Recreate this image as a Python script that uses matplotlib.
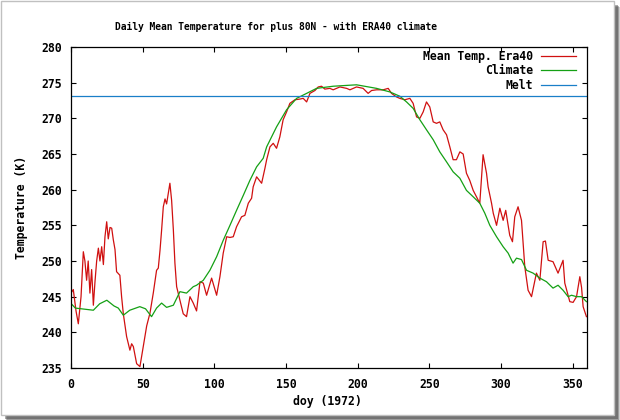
import matplotlib
matplotlib.use("Agg")
import matplotlib.pyplot as plt
from matplotlib.patches import Rectangle

# ---------------- DATA ----------------
era40_day = [0, 1.6, 3.5, 5.1, 7, 8.6, 9.7, 10.9, 12, 13.2, 14.4, 15.6, 16.7, 17.9,
             19.1, 20.2, 21.4, 22.6, 23.7, 24.9, 26, 27.2, 28.4, 29.5, 30.7, 31.8,
             34.1, 35.3, 36.5, 38.8, 41.1, 42.3, 43.5, 45.8, 48.1, 50.4, 52.8, 55.1,
             57.4, 59.7, 60.9, 62.1, 63.2, 64.4, 65.6, 66.7, 67.9, 69, 70.2, 71.4,
             72.5, 73.7, 76, 78.3, 80.6, 83, 85.3, 87.6, 90, 92.3, 94.6, 98.1, 101.6,
             103.9, 106.2, 108.6, 110.9, 113.2, 115.5, 119, 121.3, 123.7, 126, 127.1,
             129.5, 131.8, 133, 135.3, 136.5, 138.8, 141.1, 143.4, 145.7, 148, 150.4,
             152.7, 156.2, 159.7, 162, 164.4, 166.7, 170.2, 172.5, 174.8, 177.1, 180.6,
             182.9, 187.6, 192.3, 194.6, 196.9, 199.2, 203.8, 207.3, 209.7, 213.2,
             217.8, 221.3, 223.6, 227.1, 229.4, 232.9, 236.4, 238.7, 241.1, 243.4,
             245.7, 248, 250.3, 252.7, 255, 257.3, 259.6, 262, 264.3, 266.6, 268.9,
             271.3, 273.6, 275.9, 278.2, 280.6, 282.9, 285.2, 287.5, 289.9, 291,
             293.4, 294.6, 296.9, 299.2, 301.5, 303.3, 306.1, 308, 309.6, 311.9,
             314.3, 316.6, 318.9, 321.3, 324.7, 327.1, 329.4, 331, 332.9, 336.3,
             339.8, 343.3, 344.5, 348, 350.3, 352.7, 355, 356.2, 357.3, 359.6]
era40_temp = [245.5, 246, 243, 241.2, 245, 251.3, 250, 247.3, 250, 245.5, 248.8, 243.8,
              247, 250, 251.8, 250, 252, 249.5, 253.4, 255.5, 253.1, 254.7, 254.6, 253,
              251.6, 248.5, 248, 245, 242.6, 239.4, 237.5, 238.4, 238, 235.6, 235.2,
              238, 240.9, 242.7, 245.5, 248.7, 249, 251.5, 254.3, 257.6, 258.7, 258,
              259.5, 260.9, 258.5, 254.4, 249.7, 246.4, 244.5, 242.6, 242.2, 245,
              244.1, 243, 247.1, 246.9, 245.2, 247.6, 245.2, 247.8, 251.1, 253.4,
              253.3, 253.4, 254.8, 256.2, 256.4, 258.1, 258.8, 260.4, 261.8, 261.2,
              260.9, 263, 264.2, 266, 266.5, 265.8, 267.4, 269.8, 270.9, 272.1, 272.6,
              272.7, 272.8, 272.3, 273.5, 273.9, 274.4, 274.5, 274.1, 274.2, 274,
              274.4, 274.2, 274, 274.2, 274.4, 274.2, 273.5, 273.9, 274, 274, 274.2,
              273.5, 273, 272.8, 272.6, 272.8, 272.1, 270.2, 270, 270.9, 272.3, 271.6,
              269.5, 269.3, 269.5, 268.4, 267.7, 266, 264.2, 264.2, 265.3, 265, 262.3,
              261.3, 259.9, 259, 258.1, 264.9, 262.3, 260.4, 258.1, 256.7, 255, 257.4,
              255.7, 257.1, 253.6, 252.7, 256.2, 257.6, 255.7, 249.2, 245.9, 245,
              248.3, 247.3, 252.7, 252.8, 250.1, 249.9, 248.3, 250.1, 246.9, 244.3,
              244.2, 245, 247.8, 246.3, 243.6, 242.2]

climate_day = [0, 3, 15.6, 20, 25, 30, 33, 36.5, 41, 48, 52, 56.2, 59.7, 63.2, 66.7,
               71.4, 76, 80.6, 85.3, 87.6, 92.3, 96.9, 101.6, 106.2, 110.9, 115.5,
               120.2, 124.8, 129.5, 134.1, 136.5, 143.4, 150.4, 157.4, 164.4, 171.3,
               182.9, 199.2, 213.2, 222.5, 229.4, 234.1, 238.7, 243.4, 248, 252.7,
               257.3, 262, 266.6, 271.3, 275.9, 280.6, 285.2, 288.7, 292.2, 296.9,
               301.5, 305, 308.4, 310.8, 314.3, 317.8, 322.4, 327.1, 331.7, 336.3,
               339.8, 343.3, 346.8, 349.2, 352.7, 356.2, 359.6]
climate_temp = [244.05, 243.4, 243.1, 244, 244.5, 243.7, 243.4, 242.4, 243.1, 243.6,
                243.3, 242.2, 243.4, 244.1, 243.5, 243.8, 245.7, 245.5, 246.4, 246.6,
                247.3, 248.7, 250.6, 252.9, 255, 257.1, 259.2, 261.3, 263.2, 264.4,
                266, 268.8, 271.2, 272.8, 273.5, 274.2, 274.5, 274.7, 274.2, 273.7,
                273.1, 272.3, 271.4, 269.8, 268.4, 267, 265.3, 263.9, 262.5, 261.6,
                259.9, 259, 258.1, 256.7, 255, 253.4, 252, 251.1, 249.7, 250.4, 250.2,
                248.7, 248.3, 247.6, 247.1, 246.2, 246.6, 245.9, 245, 245.2, 245, 245,
                244.3]

melt_temp = 273.15
x_ticks = [0, 50, 100, 150, 200, 250, 300, 350]
y_ticks = [235, 240, 245, 250, 255, 260, 265, 270, 275, 280]

# ---------------- FIGURE ----------------
W, H = 620, 420
fig = plt.figure(figsize=(6.2, 4.2), dpi=100)
fig.patch.set_facecolor("white")

# card with drop shadow
for off, a in [(6, 0.25), (5, 0.35), (4, 0.45)]:
    fig.add_artist(Rectangle((1 / W + off / W, 5 / H - off / H), 613 / W, 414 / H,
                             transform=fig.transFigure, facecolor="#404040",
                             edgecolor="none", alpha=a, zorder=-3))
fig.add_artist(Rectangle((1 / W, 5 / H), 613 / W, 414 / H, transform=fig.transFigure,
                         facecolor="white", edgecolor="#c0c0c0", linewidth=1, zorder=-2))

mono = {"family": "DejaVu Sans Mono", "weight": "bold"}
fs = 8.3

ax = fig.add_axes([71 / W, 1 - 368 / H, 516 / W, 321 / H])
ax.set_facecolor("white")

ax.plot(era40_day, era40_temp, color="#d01010", lw=0.9, label="Mean Temp. Era40")
ax.plot(climate_day, climate_temp, color="#14a014", lw=0.9, label="Climate")
ax.axhline(melt_temp, color="#1a7fc8", lw=0.9, label="Melt")

ax.set_xlim(0, 360)
ax.set_ylim(235, 280)
ax.set_xticks(x_ticks)
ax.set_yticks(y_ticks)
ax.tick_params(direction="in", top=True, right=True, length=3.3, width=0.8,
               labelsize=fs, color="black")
ax.tick_params(axis="x", pad=7)
ax.tick_params(axis="y", pad=6.5)
for lab in ax.get_xticklabels() + ax.get_yticklabels():
    lab.set_fontfamily(mono["family"])
    lab.set_fontweight("bold")
for s in ax.spines.values():
    s.set_linewidth(0.9)

leg = ax.legend(loc="upper right", bbox_to_anchor=(1 - 11 / 516, 1 - 3 / 321),
                frameon=False, markerfirst=False, borderpad=0, borderaxespad=0,
                handlelength=3.0, handletextpad=0.7, labelspacing=0.12,
                prop={"family": mono["family"], "weight": "bold", "size": fs})

fig.text(276 / W, 1 - 27 / H, "Daily Mean Temperature for plus 80N - with ERA40 climate",
         ha="center", va="center", fontsize=6.9, **mono)
fig.text(327 / W, 1 - 401 / H, "doy (1972)", ha="center", va="center", fontsize=fs, **mono)
fig.text(22 / W, 1 - 207 / H, "Temperature (K)", ha="center", va="center",
         rotation=90, fontsize=fs, **mono)

fig.savefig("out.png", dpi=100)
